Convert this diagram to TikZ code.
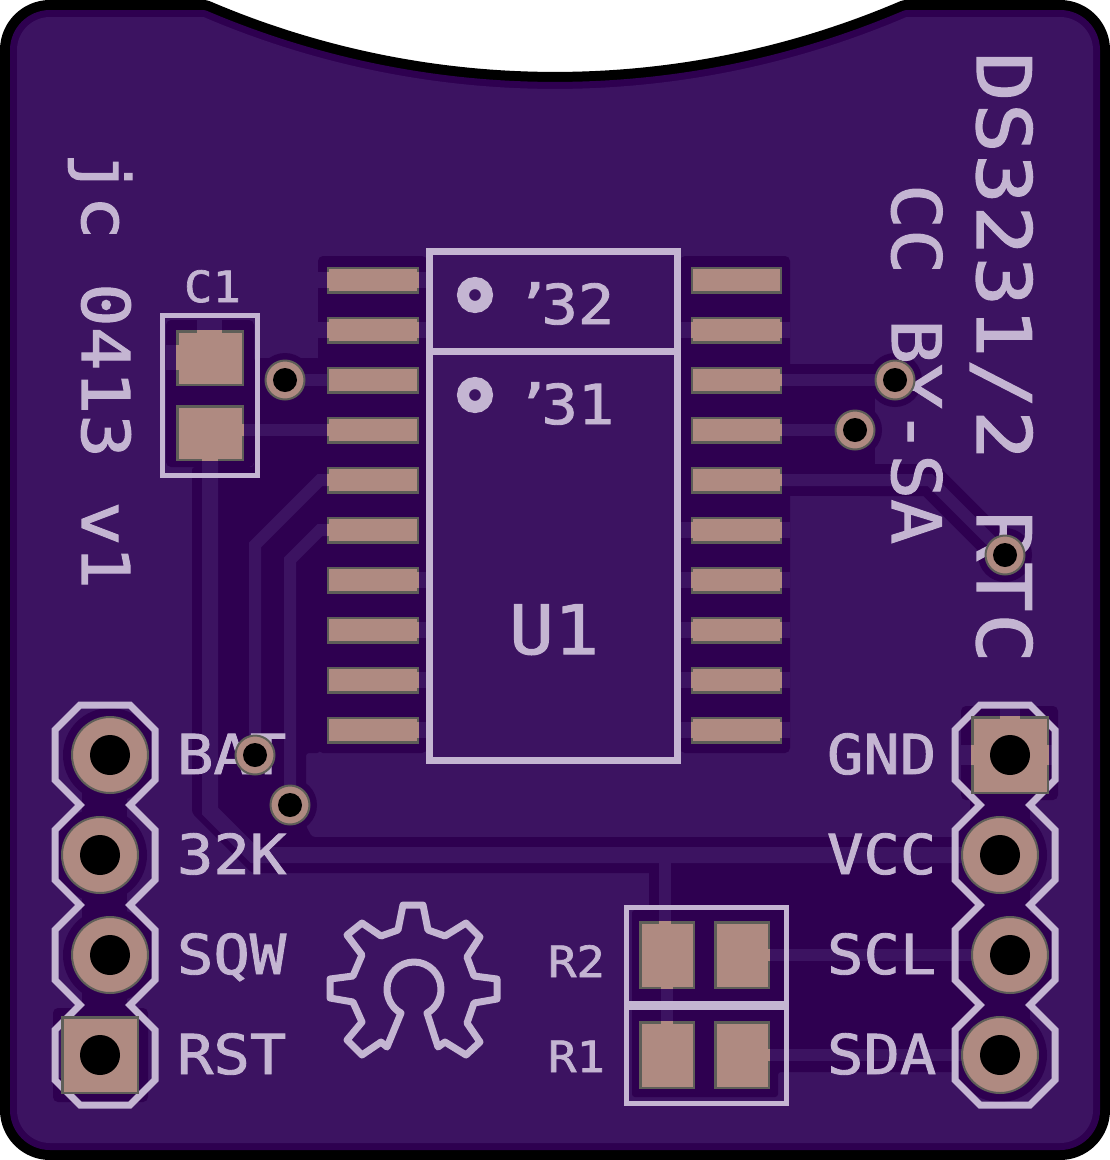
\documentclass[tikz,border=0pt]{standalone}
\usepackage{fontspec}
\newfontfamily\silkfont[FakeStretch=1.1,FakeBold=1.6]{DejaVu Sans Mono}
\newfontfamily\silkwide[LetterSpace=2,FakeStretch=1.1,FakeBold=1.6]{DejaVu Sans Mono}
\definecolor{pcblight}{HTML}{3C1361}
\definecolor{pcbdark}{HTML}{2E0050}
\definecolor{silkcol}{HTML}{C4B5D2}
\definecolor{padcol}{HTML}{AF8A81}
\definecolor{padedge}{HTML}{5E5E58}
\tikzset{
  darkcu/.style={fill=pcbdark},
  lightcu/.style={fill=pcblight},
  trackA/.style={draw=pcblight,line width=12pt,line join=miter},
  trackB/.style={draw=pcblight,line width=16pt,line join=miter},
  silkline/.style={draw=silkcol,line width=#1,line join=miter},
  silktext/.style={text=silkcol,inner sep=0pt,outer sep=0pt,anchor=base west},
  padrect/.style={fill=padcol,draw=padedge,line width=2.4pt},
  padgap/.style={fill=padcol},
  padround/.style={fill=padcol,draw=padedge,line width=2pt},
  drillhole/.style={fill=black},
}
\newcommand{\silksize}[1]{\silkfont\fontsize{#1}{#1}\selectfont}
\newcommand{\silkwidesize}[1]{\silkwide\fontsize{#1}{#1}\selectfont}
\begin{document}
\begin{tikzpicture}[x=1pt,y=-1pt]
\useasboundingbox (0,0) rectangle (1110,1160);
\fill[white] (0,0) rectangle (1110,1160);
% board
\def\boardpath{(50,17) -- (203.5,17) .. controls (428,112.9) and (682,112.9) .. (906.5,17) -- (1060,17)
  .. controls (1078.2,17) and (1093,31.8) .. (1093,50) -- (1093,1110)
  .. controls (1093,1128.2) and (1078.2,1143) .. (1060,1143) -- (50,1143)
  .. controls (31.8,1143) and (17,1128.2) .. (17,1110) -- (17,50)
  .. controls (17,31.8) and (31.8,17) .. (50,17) -- cycle}
\draw[black,line width=34pt,line join=round] \boardpath;
\draw[pcbdark,line width=14pt,line join=round] \boardpath;
\fill[pcblight] \boardpath;
% copper clearance
\fill[darkcu,rounded corners=5pt] (318,256) rectangle (427,753);
\fill[darkcu,rounded corners=5pt] (680,256) rectangle (790,753);
\fill[darkcu,rounded corners=5pt] (166,320) rectangle (254,467);
\fill[darkcu,rounded corners=3pt] (254,358) -- (320,358) -- (320,753) -- (306,753) -- (306,826) -- (312,837)
  -- (955,837) -- (955,873) -- (252,873) -- (192,813) -- (192,467) -- (254,467) -- cycle;
\fill[darkcu,rounded corners=3pt] (649,870) -- (956,870) -- (956,1072) -- (778,1072) -- (778,1097)
  -- (632,1097) -- (632,910) -- (649,910) -- cycle;
\fill[darkcu] (950,873) rectangle (990,1040);
\foreach \px/\py in {285/380,290/805,255/755,895/380,855/430,1005/555}
  \fill[darkcu] (\px,\py) circle[radius=27];
\fill[darkcu] (782,364) rectangle (875,496);
\draw[pcbdark,line width=32pt,line join=miter] (870,480) -- (930,480) -- (1005,555);
% pin clearance
\foreach \px/\py in {110/755,100/855,110/955,1000/855,1010/955,1000/1055}
  \fill[darkcu] (\px,\py) circle[radius=47];
\fill[darkcu] (82,780) rectangle (127,1020);
\fill[darkcu] (970,790) rectangle (1030,1020);
\fill[darkcu,rounded corners=5pt] (53,1008) rectangle (148,1102);
\fill[darkcu,rounded corners=5pt] (961,706) rectangle (1058,800);
% thermal stubs
\fill[lightcu] (53,1030) rectangle (62,1078);
\fill[lightcu] (1000,706) rectangle (1020,717);
\fill[lightcu] (961,745) rectangle (972,765);
\fill[lightcu] (1048,745) rectangle (1058,765);
\fill[lightcu] (197,320) rectangle (222,330);
\fill[lightcu] (166,345) rectangle (176,370);
\foreach \py in {280,330} \fill[lightcu] (318,\py-8) rectangle (327,\py+8);
\foreach \py in {280,330,580,630,680,730} \fill[lightcu] (419,\py-8) rectangle (427,\py+8);
\foreach \py in {330,530,580,630,680,730} {
  \fill[lightcu] (680,\py-8) rectangle (691,\py+8);
  \fill[lightcu] (782,\py-8) rectangle (790,\py+8);
}
% tracks
\draw[trackA] (285,380) -- (327,380);
\draw[trackA] (244,430) -- (327,430);
\draw[trackA] (327,480) -- (320,480) -- (255,545) -- (255,755);
\draw[trackA] (327,530) -- (320,530) -- (290,560) -- (290,805);
\draw[trackB] (210,461) -- (210,811) -- (254,855) -- (1000,855);
\draw[trackA] (665,855) -- (665,925);
\draw[trackA] (667,985) -- (667,1025);
\draw[trackA] (770,955) -- (1010,955);
\draw[trackA] (770,1055) -- (1000,1055);
\draw[trackA] (782,380) -- (895,380);
\draw[trackA] (782,430) -- (855,430);
\draw[trackA] (782,480) -- (930,480) -- (1005,555);
% silkscreen outlines
\draw[silkline=7pt] (80,705) -- (130,705) -- (155,730) -- (155,780) -- (130,805) -- (155,830) -- (155,880) -- (130,905)
  -- (155,930) -- (155,980) -- (130,1005) -- (155,1030) -- (155,1080) -- (130,1105) -- (80,1105) -- (55,1080)
  -- (55,1030) -- (80,1005) -- (55,980) -- (55,930) -- (80,905) -- (55,880) -- (55,830) -- (80,805) -- (55,780)
  -- (55,730) -- cycle;
\draw[silkline=7pt] (980,705) -- (1030,705) -- (1055,730) -- (1055,780) -- (1030,805) -- (1055,830) -- (1055,880) -- (1030,905)
  -- (1055,930) -- (1055,980) -- (1030,1005) -- (1055,1030) -- (1055,1080) -- (1030,1105) -- (980,1105) -- (955,1080)
  -- (955,1030) -- (980,1005) -- (955,980) -- (955,930) -- (980,905) -- (955,880) -- (955,830) -- (980,805) -- (955,780)
  -- (955,730) -- cycle;
\draw[silkline=7pt] (429,251) rectangle (677,760);
\draw[silkline=7pt] (429,351) -- (677,351);
\draw[silkline=12pt] (475,295) circle[radius=12];
\draw[silkline=12pt] (475,395) circle[radius=12];
\draw[silkline=5pt] (162.5,315.5) rectangle (257.5,475);
\draw[silkline=5pt] (626,907.5) rectangle (786,1003);
\draw[silkline=5pt] (626,1007.5) rectangle (786,1103);
% logo
\draw[silkline=7pt,line join=round] (403,905) -- (423,905) -- (428,930) -- (445,936) -- (466,923) -- (480,937) -- (467,957)
  -- (474,976) -- (497,979) -- (497,999) -- (474,1003) -- (467,1023) -- (480,1042) -- (466,1055) -- (445,1042) -- (438,1047)
  -- (427,1013) .. controls (435.7,1008.3) and (441,998.8) .. (441,989)
  .. controls (441,974.1) and (428.9,962) .. (414,962)
  .. controls (399.1,962) and (387,974.1) .. (387,989)
  .. controls (387,998.8) and (392.3,1008.3) .. (401,1013)
  -- (387,1047) -- (381,1042) -- (362,1055) -- (347,1040) -- (362,1022) -- (353,1002) -- (330,998) -- (330,979) -- (353,976)
  -- (362,955) -- (347,935) -- (362,923) -- (381,936) -- (398,930) -- cycle;
% silkscreen texts
\node[silktext,font=\silksize{55}] (tbat) at (177,774) {BAT};
\node[silktext,font=\silksize{55}] (t32k) at (177,874) {32K};
\node[silktext,font=\silksize{55}] (tsqw) at (177,974) {SQW};
\node[silktext,font=\silksize{55}] (trst) at (177,1074) {RST};
\node[silktext,font=\silksize{55}] (tgnd) at (827,774) {GND};
\node[silktext,font=\silksize{55}] (tvcc) at (827,874) {VCC};
\node[silktext,font=\silksize{55}] (tscl) at (827,974) {SCL};
\node[silktext,font=\silksize{55}] (tsda) at (827,1074) {SDA};
\node[silktext,font=\silksize{43}] (tr2) at (548,977) {R2};
\node[silktext,font=\silksize{43}] (tr1) at (548,1072) {R1};
\node[silktext,font=\silksize{43}] (tc1) at (184,302) {C1};
\node[silktext,font=\silksize{55}] (t32) at (505,324) {\kern10pt’\kern-10pt32};
\node[silktext,font=\silksize{55}] (t31) at (505,424) {\kern10pt’\kern-10pt31};
\node[silktext,font=\silksize{68}] (tu1) at (509,654) {U1};
\node[silktext,font=\silkwidesize{75},rotate=-90] (tds) at (977,52) {DS3231/2 RTC};
\node[silktext,font=\silksize{68},rotate=-90] (tcc) at (892,184) {CC BY-SA};
\node[silktext,font=\silksize{66},rotate=-90] (tjc) at (82,152) {jc 0413 v1};
% pads
\foreach \py in {280,330,...,730} {
  \draw[padrect] (328.2,\py-12.3) rectangle (417.8,\py+12.3);
  \draw[padrect] (692.2,\py-12.3) rectangle (780.8,\py+12.3);
}
\foreach \py in {280,330} \fill[padgap] (326.9,\py-8) rectangle (331,\py+8);
\foreach \py in {430} \fill[padgap] (326.9,\py-6) rectangle (331,\py+6);
\foreach \py in {480,530} \fill[padgap] (326.9,\py-6) rectangle (331,\py+6);
\foreach \py in {280,330,580,630,680,730} \fill[padgap] (415,\py-8) rectangle (419.1,\py+8);
\foreach \py in {330,530,580,630,680,730} {
  \fill[padgap] (690.9,\py-8) rectangle (695,\py+8);
  \fill[padgap] (778,\py-8) rectangle (782.1,\py+8);
}
\foreach \py in {380,430,480} \fill[padgap] (778,\py-6) rectangle (782.1,\py+6);
\draw[padrect] (177.3,331.3) rectangle (242.7,384.7);
\draw[padrect] (177.3,406.3) rectangle (242.7,459.7);
\fill[padgap] (197,329.9) rectangle (222,334);
\fill[padgap] (175.9,345) rectangle (180,370);
\fill[padgap] (240,424) rectangle (244.1,436);
\fill[padgap] (202,457) rectangle (218,461.1);
\draw[padrect] (640.3,922.3) rectangle (693.7,987.7);
\draw[padrect] (715.3,922.3) rectangle (768.7,987.7);
\draw[padrect] (640.3,1022.3) rectangle (693.7,1087.7);
\draw[padrect] (715.3,1022.3) rectangle (768.7,1087.7);
\fill[padgap] (659,920.9) rectangle (671,925);
\fill[padgap] (661,985) rectangle (673,989.1);
\fill[padgap] (661,1020.9) rectangle (673,1025);
\fill[padgap] (766,949) rectangle (770.1,961);
\fill[padgap] (766,1049) rectangle (770.1,1061);
\draw[padrect] (62.3,1017.3) rectangle (137.7,1092.7);
\draw[padrect] (972.3,717.3) rectangle (1047.7,792.7);
\fill[padgap] (1000,715.9) rectangle (1020,720);
\fill[padgap] (970.9,745) rectangle (975,765);
\fill[padgap] (1045,745) rectangle (1049.1,765);
\foreach \px/\py in {110/755,100/855,110/955,1000/855,1010/955,1000/1055}
  \draw[padround] (\px,\py) circle[radius=38];
\foreach \px/\py in {285/380,290/805,255/755,895/380,855/430,1005/555}
  \draw[padround] (\px,\py) circle[radius=19.5];
% drills
\foreach \px/\py in {110/755,100/855,110/955,100/1055,1010/755,1000/855,1010/955,1000/1055}
  \fill[drillhole] (\px,\py) circle[radius=20];
\foreach \px/\py in {285/380,290/805,255/755,895/380,855/430,1005/555}
  \fill[drillhole] (\px,\py) circle[radius=12];
\end{tikzpicture}
\end{document}
